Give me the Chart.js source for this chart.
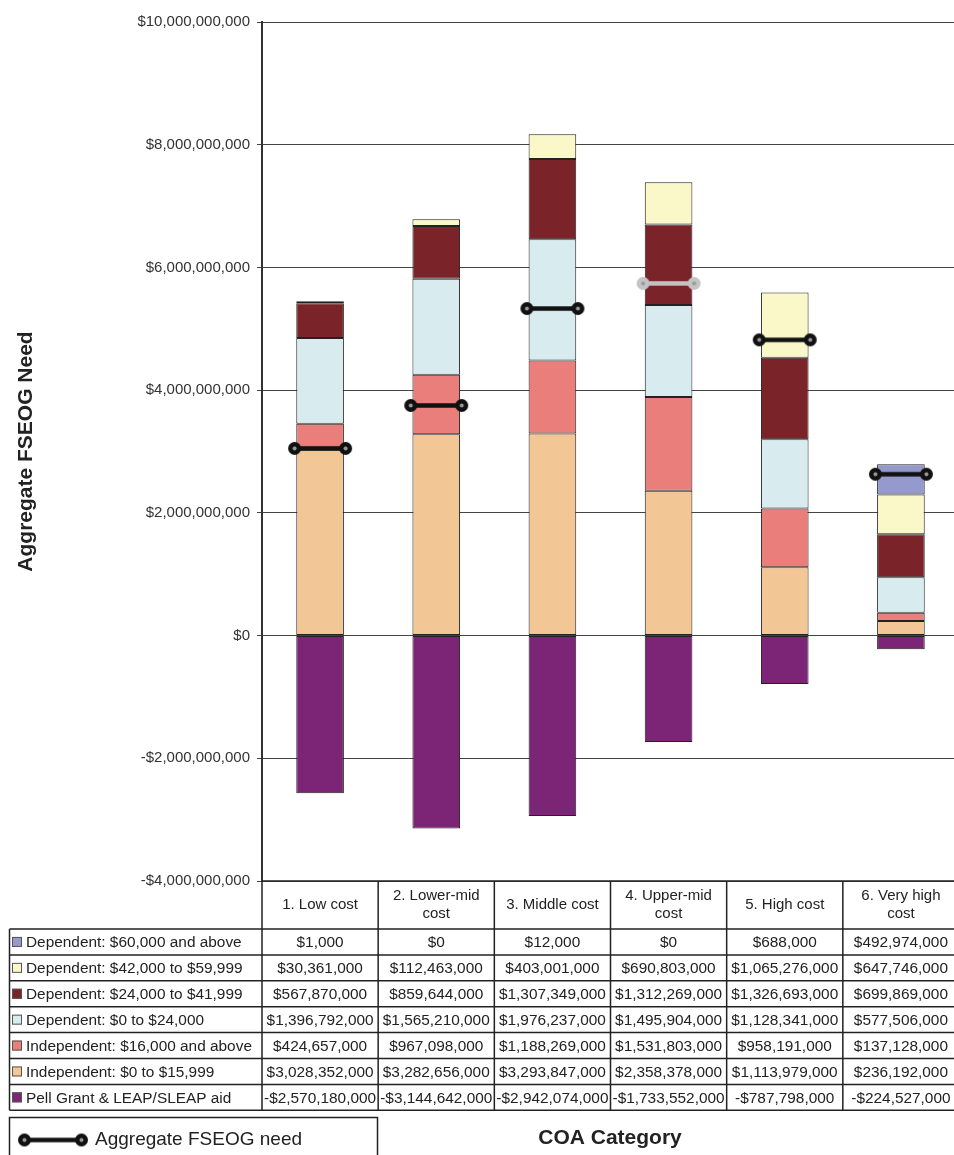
<!DOCTYPE html>
<html>
<head>
<meta charset="utf-8">
<script src="https://cdn.jsdelivr.net/npm/chart.js@4.4.1/dist/chart.umd.min.js"></script>
<style>
  html, body { margin: 0; padding: 0; background: #fff; overflow: hidden; }
  canvas { display: block; }
</style>
</head>
<body>
<canvas id="chart" width="966" height="1155"></canvas>
<script>
// COA categories (header row of the data table, wrapped as printed)
const categories = [
  ['1. Low cost'],
  ['2. Lower-mid', 'cost'],
  ['3. Middle cost'],
  ['4. Upper-mid', 'cost'],
  ['5. High cost'],
  ['6. Very high', 'cost']
];

// Aggregate FSEOG need components by COA category (dollars)
const dependent60kUp   = [1000, 0, 12000, 0, 688000, 492974000];
const dependent42to60k = [30361000, 112463000, 403001000, 690803000, 1065276000, 647746000];
const dependent24to42k = [567870000, 859644000, 1307349000, 1312269000, 1326693000, 699869000];
const dependent0to24k  = [1396792000, 1565210000, 1976237000, 1495904000, 1128341000, 577506000];
const independent16kUp = [424657000, 967098000, 1188269000, 1531803000, 958191000, 137128000];
const independent0to16k = [3028352000, 3282656000, 3293847000, 2358378000, 1113979000, 236192000];
const pellLeapAid      = [-2570180000, -3144642000, -2942074000, -1733552000, -787798000, -224527000];

// Aggregate FSEOG need marker per category
const aggregateNeed = [3050000000, 3750000000, 5330000000, 5740000000, 4820000000, 2630000000];

// Value axis tick labels
const yTickValues = [-4000000000, -2000000000, 0, 2000000000, 4000000000, 6000000000, 8000000000, 10000000000];

const fmt = v => (v < 0 ? '-' : '') + '$' + Math.abs(v).toLocaleString('en-US');

// Table rows, top to bottom
const rows = [
  { label: 'Dependent: $60,000 and above', data: dependent60kUp, color: '#9599cc' },
  { label: 'Dependent: $42,000 to $59,999', data: dependent42to60k, color: '#faf7c9' },
  { label: 'Dependent: $24,000 to $41,999', data: dependent24to42k, color: '#7a2328' },
  { label: 'Dependent: $0 to $24,000', data: dependent0to24k, color: '#d8ecef' },
  { label: 'Independent: $16,000 and above', data: independent16kUp, color: '#e97e7a' },
  { label: 'Independent: $0 to $15,999', data: independent0to16k, color: '#f2c795' },
  { label: 'Pell Grant & LEAP/SLEAP aid', data: pellLeapAid, color: '#7c2476' }
];

// Dumbbell glyph used for the need markers and its legend key
function makeMarker(color, len) {
  const r = 6.5, pad = 1;
  const c = document.createElement('canvas');
  c.width = len + 2 * pad;
  c.height = 2 * r + 2 * pad;
  const g = c.getContext('2d');
  const cy = c.height / 2, x0 = pad + r, x1 = c.width - pad - r;
  g.strokeStyle = color;
  g.lineWidth = 4.5;
  g.beginPath(); g.moveTo(x0, cy); g.lineTo(x1, cy); g.stroke();
  [x0, x1].forEach(cx => {
    g.fillStyle = color;
    g.beginPath(); g.arc(cx, cy, r, 0, Math.PI * 2); g.fill();
    g.fillStyle = '#9a9a9a';
    g.beginPath(); g.arc(cx, cy, 2, 0, Math.PI * 2); g.fill();
  });
  return c;
}
const markerColors = ['#111', '#111', '#111', '#c4c4c4', '#111', '#111'];
const markers = markerColors.map(col => makeMarker(col, 64));
const legendMarker = makeMarker('#111', 70);

const FONT = '"Liberation Sans", Arial, sans-serif';

const tablePlugin = {
  id: 'dataTable',
  afterDraw(chart) {
    const { ctx, chartArea, scales: { x } } = chart;
    const n = categories.length;
    const left = chartArea.left;
    const colW = (chartArea.right - chartArea.left) / n;
    const top = chartArea.bottom;
    const headH = 48, rowH = 25.9, keyLeft = 9.5;
    const bodyTop = top + headH;
    const bottom = bodyTop + rows.length * rowH;

    ctx.save();
    ctx.textBaseline = 'middle';
    ctx.fillStyle = '#222';
    ctx.font = '15px ' + FONT;
    ctx.textAlign = 'center';
    categories.forEach((lines, i) => {
      const cx = x.getPixelForValue(i);
      lines.forEach((t, j) => {
        ctx.fillText(t, cx, top + headH / 2 + (j - (lines.length - 1) / 2) * 18);
      });
    });

    ctx.font = '15.4px ' + FONT;
    rows.forEach((r, ri) => {
      const cy = bodyTop + ri * rowH + rowH / 2;
      ctx.fillStyle = r.color;
      ctx.fillRect(12, cy - 5, 10, 10);
      ctx.strokeStyle = '#555';
      ctx.lineWidth = 1;
      ctx.strokeRect(12.5, cy - 4.5, 9, 9);
      ctx.fillStyle = '#222';
      ctx.textAlign = 'left';
      ctx.fillText(r.label, 26, cy + 1, left - 28);
      ctx.textAlign = 'center';
      r.data.forEach((v, i) => {
        ctx.fillText(fmt(v), x.getPixelForValue(i), cy + 1, colW - 4);
      });
    });

    // table rules
    ctx.strokeStyle = '#222';
    ctx.lineWidth = 1.5;
    ctx.beginPath();
    ctx.moveTo(left, top); ctx.lineTo(chartArea.right, top);
    for (let k = 0; k <= rows.length; k++) {
      const yy = bodyTop + k * rowH;
      ctx.moveTo(keyLeft, yy); ctx.lineTo(chartArea.right, yy);
    }
    ctx.moveTo(keyLeft, bodyTop); ctx.lineTo(keyLeft, bottom);
    for (let i = 0; i <= n; i++) {
      const xx = left + i * colW;
      ctx.moveTo(xx, top); ctx.lineTo(xx, bottom);
    }
    ctx.stroke();

    // legend box for the need marker
    ctx.lineWidth = 1.5;
    ctx.strokeRect(9.5, 1117.5, 368, 60);
    ctx.drawImage(legendMarker, 53 - legendMarker.width / 2, 1140 - legendMarker.height / 2);
    ctx.fillStyle = '#222';
    ctx.textAlign = 'left';
    ctx.font = '19px ' + FONT;
    ctx.fillText('Aggregate FSEOG need', 95, 1140);

    // category axis title
    ctx.textAlign = 'center';
    ctx.font = 'bold 21px ' + FONT;
    ctx.fillText('COA Category', 610, 1138);
    ctx.restore();
  }
};

// Bars stack from the bottom row of the table upward
const barDatasets = rows.slice().reverse().map(r => ({
  type: 'bar',
  label: r.label,
  data: r.data,
  backgroundColor: r.color,
  borderColor: '#222',
  borderWidth: 1,
  borderSkipped: false,
  barPercentage: 0.41,
  categoryPercentage: 1.0,
  order: 1
}));

new Chart(document.getElementById('chart'), {
  data: {
    labels: categories,
    datasets: [
      {
        type: 'line',
        label: 'Aggregate FSEOG need',
        data: aggregateNeed,
        showLine: false,
        stack: 'need',
        pointStyle: ctx => markers[ctx.dataIndex],
        pointRadius: 6,
        order: 0
      },
      ...barDatasets
    ]
  },
  options: {
    responsive: false,
    animation: false,
    events: [],
    layout: { padding: { top: 22, bottom: 274, left: 0, right: 2 } },
    plugins: { legend: { display: false }, tooltip: { enabled: false } },
    scales: {
      x: { stacked: true, display: false },
      y: {
        stacked: true,
        min: -4000000000,
        max: 10000000000,
        afterBuildTicks: s => { s.ticks = yTickValues.map(v => ({ value: v })); },
        afterFit: s => { s.width = 262; },
        ticks: {
          callback: v => fmt(v),
          font: { family: FONT, size: 15 },
          color: '#333',
          padding: 7
        },
        grid: { color: '#444', lineWidth: 1, tickLength: 5 },
        border: { color: '#333', width: 2 },
        title: {
          display: true,
          text: 'Aggregate FSEOG Need',
          font: { family: FONT, size: 21, weight: 'bold' },
          color: '#222',
          padding: { top: 14, bottom: 0 }
        }
      }
    }
  },
  plugins: [tablePlugin]
});
</script>
</body>
</html>
